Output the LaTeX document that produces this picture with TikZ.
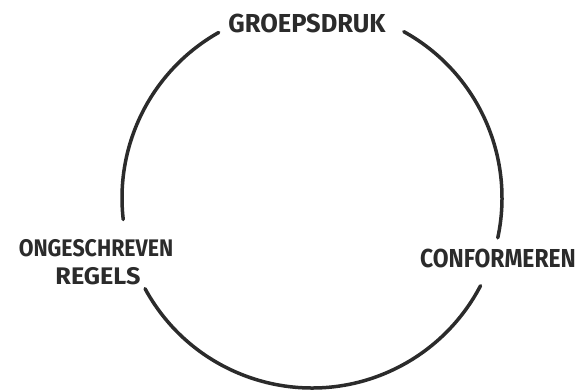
\documentclass[tikz,border=0pt]{standalone}
\usepackage{fontspec}
\setmainfont{Fira Sans}
\usetikzlibrary{calc}
\definecolor{ink}{HTML}{2B2B2B}
\tikzset{
  lbl/.style={text=ink, font=\fontsize{26}{28}\selectfont\bfseries, inner sep=0pt, align=center},
  lbls/.style={lbl, font=\fontsize{24}{26}\selectfont\bfseries},
  ring/.style={draw=ink, line width=3.5pt, line cap=round}
}
\begin{document}
\begin{tikzpicture}[x=1pt,y=1pt]
\useasboundingbox (0,0) rectangle (582,390);
\coordinate (c) at (312,192);
\node[lbl, xscale=0.98] (gd) at (307,367) {GROEPSDRUK};
\node[lbl, xscale=0.88] (cf) at (498,132) {CONFORMEREN};
\node[lbls, xscale=0.89] (og) at (96,142) {ONGESCHREVEN};
\node[lbls, xscale=1.05] (rg) at (98,114) {REGELS};
\coordinate (a1) at ($(c)+(119.4:190)$);
\coordinate (b1) at ($(c)+(208.5:190)$);
\coordinate (c1) at ($(c)+(-12.1:190)$);
\draw[ring] (a1) arc[start angle=119.4, end angle=186.5, radius=190];
\draw[ring] (b1) arc[start angle=208.5, end angle=332.5, radius=190];
\draw[ring] (c1) arc[start angle=-12.1, end angle=61.1, radius=190];
\end{tikzpicture}
\end{document}
